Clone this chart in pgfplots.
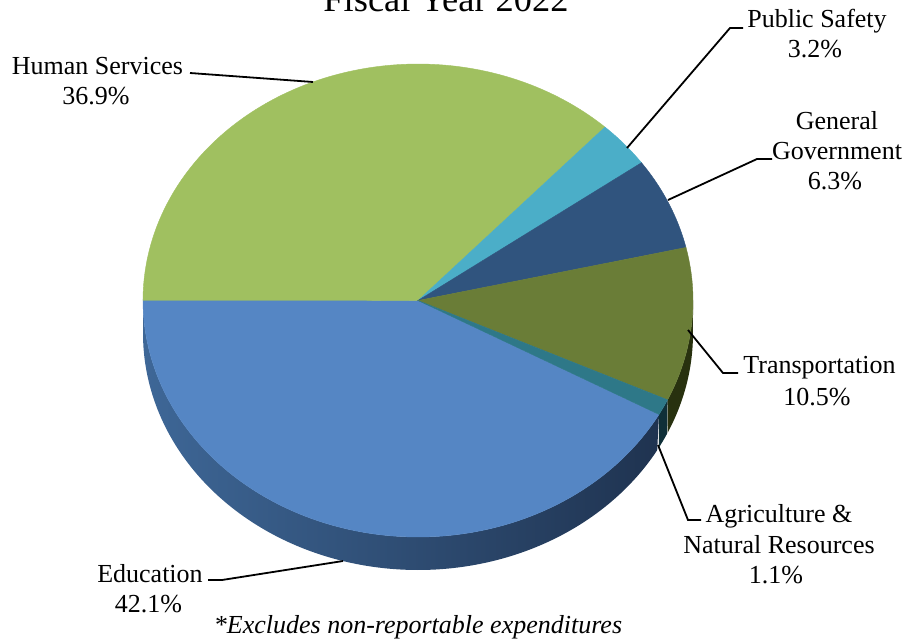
\documentclass[border=0pt]{standalone}
\usepackage{fontspec}
\setmainfont{Liberation Serif}
\usepackage{pgfplots}
\pgfplotsset{compat=1.18}
\definecolor{cHS}{HTML}{A0C060}
\definecolor{cPS}{HTML}{4BAEC8}
\definecolor{cGG}{HTML}{30547E}
\definecolor{cTR}{HTML}{6A7D37}
\definecolor{cAG}{HTML}{2E7888}
\definecolor{cED}{HTML}{5586C4}
\definecolor{sED}{HTML}{1F3350}
\definecolor{sEDl}{HTML}{3E6797}
\definecolor{sTR}{HTML}{28310F}
\definecolor{sAG}{HTML}{0F2F38}
\begin{document}
\begin{tikzpicture}
% geometry (pixel units of the reference)
\def\cx{418}\def\cy{-300.5}\def\rx{275}\def\ry{236.5}\def\dep{33}
% shares (percent)
\def\pHS{36.9}\def\pPS{3.2}\def\pGG{6.3}\def\pTR{10.5}\def\pAG{1.1}\def\pED{42.1}
\pgfmathsetmacro\aA{180}
\pgfmathsetmacro\aB{\aA-3.6*\pHS}
\pgfmathsetmacro\aC{\aB-3.6*\pPS}
\pgfmathsetmacro\aD{\aC-3.6*\pGG}
\pgfmathsetmacro\aE{\aD-3.6*\pTR}
\pgfmathsetmacro\aF{\aE-3.6*\pAG}
\pgfmathsetmacro\aG{\aF-3.6*\pED}
\begin{axis}[scale only axis, width=455pt, height=319pt,
  xmin=0, xmax=910, ymin=-638, ymax=0,
  axis lines=none, clip=false, no markers]
\coordinate (bl) at (rel axis cs:0,0);
\coordinate (tr) at (rel axis cs:1,1);
% ---- sides (front half only)
\addplot[draw=none, left color=sEDl, middle color=sED, right color=sED, domain=0:2, samples=401, variable=\t]
  ({\cx+\rx*cos(-180+((\aF)+180)*min(\t,2-\t))},
   {\cy+\ry*sin(-180+((\aF)+180)*min(\t,2-\t))-\dep*(\t>1)}) -- cycle;
\addplot[draw=none, fill=sAG, domain=0:2, samples=41, variable=\t]
  ({\cx+\rx*cos((\aF)+((\aE)-(\aF))*min(\t,2-\t))},
   {\cy+\ry*sin((\aF)+((\aE)-(\aF))*min(\t,2-\t))-\dep*(\t>1)}) -- cycle;
\addplot[draw=none, fill=sTR, domain=0:2, samples=101, variable=\t]
  ({\cx+\rx*cos((\aE)+(0-(\aE))*min(\t,2-\t))},
   {\cy+\ry*sin((\aE)+(0-(\aE))*min(\t,2-\t))-\dep*(\t>1)}) -- cycle;
% ---- top face
\addplot[draw=cED, line width=0.2pt, fill=cED, domain=\aG:\aF, samples=150, variable=\t]
  ({\cx+\rx*cos(\t)},{\cy+\ry*sin(\t)}) -- (axis cs:\cx,\cy) -- cycle;
\addplot[draw=cHS, line width=0.2pt, fill=cHS, domain=\aB:\aA, samples=130, variable=\t]
  ({\cx+\rx*cos(\t)},{\cy+\ry*sin(\t)}) -- (axis cs:\cx,\cy) -- cycle;
\addplot[draw=cPS, line width=0.2pt, fill=cPS, domain=\aC:\aB, samples=20, variable=\t]
  ({\cx+\rx*cos(\t)},{\cy+\ry*sin(\t)}) -- (axis cs:\cx,\cy) -- cycle;
\addplot[draw=cGG, line width=0.2pt, fill=cGG, domain=\aD:\aC, samples=30, variable=\t]
  ({\cx+\rx*cos(\t)},{\cy+\ry*sin(\t)}) -- (axis cs:\cx,\cy) -- cycle;
\addplot[draw=cTR, line width=0.2pt, fill=cTR, domain=\aE:\aD, samples=45, variable=\t]
  ({\cx+\rx*cos(\t)},{\cy+\ry*sin(\t)}) -- (axis cs:\cx,\cy) -- cycle;
\addplot[draw=cAG, line width=0.2pt, fill=cAG, domain=\aF:\aE, samples=10, variable=\t]
  ({\cx+\rx*cos(\t)},{\cy+\ry*sin(\t)}) -- (axis cs:\cx,\cy) -- cycle;
% ---- leader lines
\tikzset{ldr/.style={line width=0.9pt}}
\draw[ldr] (axis cs:190,-73) -- (axis cs:313,-82);
\draw[ldr] (axis cs:627,-148) -- (axis cs:730,-28) -- (axis cs:743,-28);
\draw[ldr] (axis cs:668,-200) -- (axis cs:757,-159) -- (axis cs:772,-159);
\draw[ldr] (axis cs:688,-330) -- (axis cs:723,-373) -- (axis cs:738,-373);
\draw[ldr] (axis cs:658,-445) -- (axis cs:688,-520) -- (axis cs:701,-520);
\draw[ldr] (axis cs:208,-580) -- (axis cs:222,-580) -- (axis cs:343,-561);
% ---- labels
\tikzset{lbl/.style={anchor=base, inner sep=0pt, font=\fontsize{13}{15}\selectfont}}
\node[anchor=base, inner sep=0pt, font=\fontsize{18.2}{21}\selectfont] at (axis cs:446,-12) {Fiscal Year 2022};
\node[lbl] at (axis cs:97.5,-75) {Human Services};
\node[lbl] at (axis cs:96,-105) {36.9\%};
\node[lbl] at (axis cs:817,-28) {Public Safety};
\node[lbl] at (axis cs:815,-58) {3.2\%};
\node[lbl] at (axis cs:837,-130) {General};
\node[lbl] at (axis cs:837,-160) {Government};
\node[lbl] at (axis cs:835,-190) {6.3\%};
\node[lbl] at (axis cs:819.5,-373) {Transportation};
\node[lbl] at (axis cs:817,-405) {10.5\%};
\node[lbl] at (axis cs:779,-522) {Agriculture \&};
\node[lbl] at (axis cs:779,-553) {Natural Resources};
\node[lbl] at (axis cs:776,-583) {1.1\%};
\node[lbl] at (axis cs:150,-582) {Education};
\node[lbl] at (axis cs:148.5,-612) {42.1\%};
\node[lbl, font=\fontsize{13}{15}\selectfont\itshape] at (axis cs:418,-633) {*Excludes non-reportable expenditures};
\end{axis}
\pgfresetboundingbox
\path[use as bounding box] (bl) rectangle (tr);
\end{tikzpicture}
\end{document}
